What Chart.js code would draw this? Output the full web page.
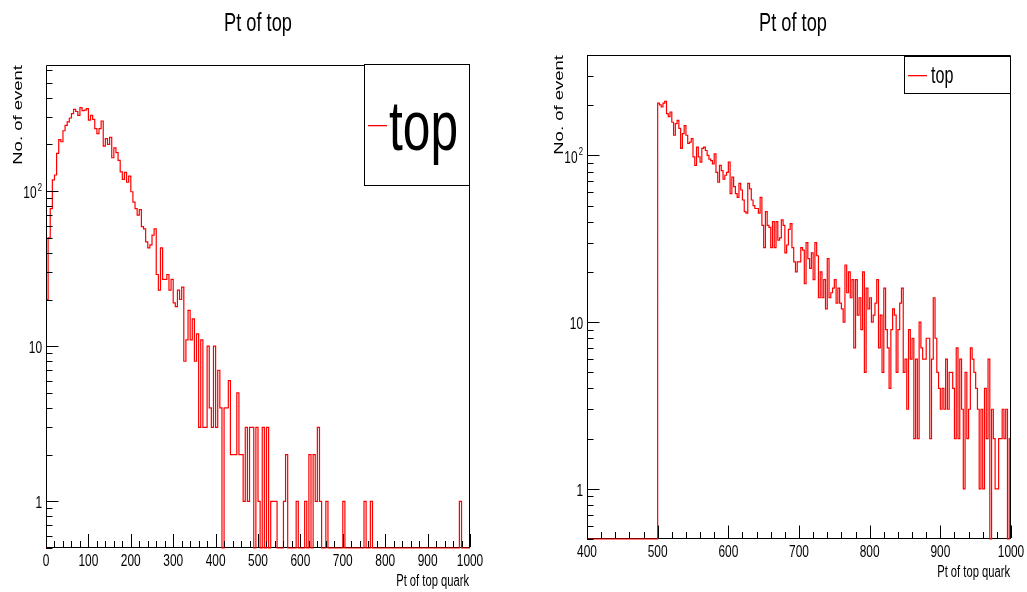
<!DOCTYPE html>
<html>
<head>
<meta charset="utf-8">
<script src="https://cdn.jsdelivr.net/npm/chart.js@4.4.0/dist/chart.umd.min.js"></script>
<style>
html, body { margin: 0; padding: 0; background: #fff; }
#wrap { position: relative; width: 1027px; height: 592px; overflow: hidden; }
canvas { position: absolute; top: 0; }
#left { left: 0; }
#right { left: 513px; }
</style>
</head>
<body>
<div id="wrap">
  <canvas id="left" width="513" height="592"></canvas>
  <canvas id="right" width="514" height="592"></canvas>
</div>
<script>
const titleText = "Pt of top";
const xTitle = "Pt of top quark";
const yTitle = "No. of event";
const legendLabel = "top";

// left histogram: 200 bins of width 5, from 0 to 1000
const leftLow = 0, leftWidth = 5;
const leftCounts = [
  20, 50, 77, 118, 127, 175, 215, 208, 245, 265,
  279, 296, 316, 336, 326, 308, 345, 330, 333, 340,
  287, 308, 290, 253, 235, 253, 283, 195, 218, 200,
  222, 164, 190, 177, 158, 133, 119, 132, 114, 125,
  99, 85, 77, 70, 76, 59, 57, 47, 43, 45,
  52, 57, 29, 23, 43, 27, 27, 29, 23, 27,
  19, 18, 23, 20, 24, 8, 11, 17, 11, 15,
  8, 12, 3, 11, 3, 3, 10, 4, 3, 10,
  3, 7, 4, 0, 4, 4, 6, 2, 2, 2,
  5, 2, 2, 1, 3, 1, 3, 3, 0, 3,
  1, 0, 3, 0, 3, 0, 1, 1, 1, 0,
  0, 0, 1, 2, 0, 0, 0, 0, 1, 0,
  0, 0, 1, 0, 2, 0, 2, 1, 3, 1,
  0, 0, 1, 0, 0, 0, 0, 0, 0, 0,
  1, 0, 0, 0, 0, 0, 0, 0, 0, 0,
  1, 0, 0, 1, 0, 0, 0, 0, 0, 0,
  0, 0, 0, 0, 0, 0, 0, 0, 0, 0,
  0, 0, 0, 0, 0, 0, 0, 0, 0, 0,
  0, 0, 0, 0, 0, 0, 0, 0, 0, 0,
  0, 0, 0, 0, 0, 1, 0, 0, 0, 0
];

// right histogram: 240 bins of width 2.5, from 400 to 1000
const rightLow = 400, rightWidth = 2.5;
const rightCounts = [
  0, 0, 0, 0, 0, 0, 0, 0, 0, 0,
  0, 0, 0, 0, 0, 0, 0, 0, 0, 0,
  0, 0, 0, 0, 0, 0, 0, 0, 0, 0,
  0, 0, 0, 0, 0, 0, 0, 0, 0, 0,
  206, 201, 195, 206, 211, 178, 171, 182, 158, 132,
  155, 162, 145, 110, 135, 151, 132, 118, 120, 126,
  98, 87, 112, 98, 91, 110, 112, 107, 100, 95,
  93, 89, 102, 79, 69, 87, 81, 72, 76, 79,
  91, 59, 74, 65, 59, 56, 68, 62, 54, 46,
  45, 68, 63, 54, 50, 48, 48, 45, 56, 38,
  28, 46, 38, 37, 28, 40, 28, 40, 31, 32,
  41, 38, 26, 29, 36, 39, 28, 23, 20, 23,
  23, 28, 27, 17, 30, 24, 21, 26, 18, 30,
  25, 14, 20, 14, 18, 12, 24, 14, 15, 16,
  18, 13, 16, 13, 12, 10, 22, 15, 20, 14,
  18, 7, 18, 11, 14, 9, 20, 5, 16, 12,
  14, 10, 11, 13, 18, 7, 11, 5, 16, 9,
  7, 4, 9, 12, 11, 5, 9, 13, 16, 5,
  6, 3, 9, 6, 8, 2, 6, 2, 10, 7,
  6, 6, 8, 8, 2, 6, 14, 8, 5, 4,
  3, 4, 3, 6, 3, 5, 5, 4, 2, 7,
  2, 6, 3, 1, 5, 2, 3, 7, 6, 5,
  4, 3, 1, 3, 1, 4, 2, 6, 0, 3,
  2, 1, 1, 2, 2, 3, 2, 3, 0, 2
];

const leftXTicks = [0, 100, 200, 300, 400, 500, 600, 700, 800, 900, 1000];
const rightXTicks = [400, 500, 600, 700, 800, 900, 1000];
const yTickValues = [1, 10, 100];
const yTickTexts = ["1", "10", "10"];
const yTickSups = ["", "", "2"];

const FONT = '"Liberation Sans", Arial, Helvetica, sans-serif';
const SQ = 0.7; // horizontal squeeze of the reference picture

function histPoints(low, width, counts, floor) {
  const pts = [{x: low, y: floor}];
  counts.forEach((c, i) => pts.push({x: low + i * width, y: c > 0 ? c : floor}));
  const last = counts[counts.length - 1];
  pts.push({x: low + counts.length * width, y: last > 0 ? last : floor});
  return pts;
}

function sqText(ctx, txt, x, y, size, align, base) {
  ctx.save();
  ctx.translate(x, y);
  ctx.scale(SQ, 1);
  ctx.font = size + "px " + FONT;
  ctx.textAlign = align;
  ctx.textBaseline = base || "alphabetic";
  ctx.fillText(txt, 0, 0);
  ctx.restore();
}

function rootPlugin(p) {
  return {
    id: "rootStyle",
    beforeDatasetsDraw(chart) {
      // bottom axis line goes under the histogram, empty bins draw red over it
      const ctx = chart.ctx;
      const a = chart.chartArea;
      ctx.save();
      ctx.strokeStyle = "#000";
      ctx.lineWidth = 1;
      ctx.beginPath();
      ctx.moveTo(Math.round(a.left), Math.round(a.bottom) - 0.5);
      ctx.lineTo(Math.round(a.right), Math.round(a.bottom) - 0.5);
      ctx.stroke();
      ctx.restore();
    },
    afterDraw(chart) {
      const ctx = chart.ctx;
      const a = chart.chartArea;
      const xs = chart.scales.x, ys = chart.scales.y;
      ctx.save();
      ctx.fillStyle = "#000";
      ctx.strokeStyle = "#000";
      ctx.lineWidth = 1;

      // frame: left, top, right
      ctx.beginPath();
      ctx.moveTo(Math.round(a.left) + 0.5, Math.round(a.bottom) - 0.5);
      ctx.lineTo(Math.round(a.left) + 0.5, Math.round(a.top) + 0.5);
      ctx.lineTo(Math.round(a.right) - 0.5, Math.round(a.top) + 0.5);
      ctx.lineTo(Math.round(a.right) - 0.5, Math.round(a.bottom) - 0.5);
      ctx.stroke();

      // x ticks: major every 100, minor every 20
      ctx.beginPath();
      for (let v = xs.min; v <= xs.max + 1e-6; v += 20) {
        const px = Math.round(xs.getPixelForValue(v)) + 0.5;
        const len = (Math.round(v) % 100 === 0) ? p.xMajor : p.xMinor;
        ctx.moveTo(px, a.bottom - 1);
        ctx.lineTo(px, a.bottom - len);
      }
      // y ticks: decades and 2..9
      for (let d = -1; d <= 3; d++) {
        for (let m = 1; m <= 9; m++) {
          const v = m * Math.pow(10, d);
          if (v < ys.min || v > ys.max) continue;
          const py = Math.round(ys.getPixelForValue(v)) + 0.5;
          const len = m === 1 ? p.yMajor : p.yMinor;
          ctx.moveTo(a.left, py);
          ctx.lineTo(a.left + len, py);
        }
      }
      ctx.stroke();

      // x tick labels
      p.xTicks.forEach(v => {
        sqText(ctx, String(v), xs.getPixelForValue(v), p.xLabelY, 17, "center", "middle");
      });
      // y tick labels
      yTickValues.forEach((v, i) => {
        const py = ys.getPixelForValue(v) + 2.5;
        if (yTickSups[i]) {
          sqText(ctx, yTickSups[i], a.left - 4, py - 6, 11, "right", "middle");
          sqText(ctx, yTickTexts[i], a.left - 9.5, py, 17, "right", "middle");
        } else {
          sqText(ctx, yTickTexts[i], a.left - 4, py, 17, "right", "middle");
        }
      });

      // axis titles
      sqText(ctx, xTitle, a.right - 1, p.xTitleY, 16, "right", "alphabetic");
      ctx.save();
      ctx.translate(p.yTitleX, a.top);
      ctx.scale(SQ, 1);
      ctx.rotate(-Math.PI / 2);
      ctx.font = "18.5px " + FONT;
      ctx.textAlign = "right";
      ctx.textBaseline = "alphabetic";
      ctx.fillText(yTitle, 0, 0);
      ctx.restore();

      // title
      sqText(ctx, titleText, p.titleX, 31, 26, "center", "alphabetic");

      // legend box
      const L = p.legend;
      ctx.fillStyle = "#fff";
      ctx.fillRect(L.x0, L.y0, L.x1 - L.x0, L.y1 - L.y0);
      ctx.strokeStyle = "#000";
      ctx.strokeRect(L.x0 + 0.5, L.y0 + 0.5, L.x1 - L.x0, L.y1 - L.y0);
      ctx.fillStyle = "#ff0000";
      ctx.fillRect(L.lx0, L.ly, L.lx1 - L.lx0, 1.3);
      ctx.fillStyle = "#000";
      sqText(ctx, legendLabel, L.tx, L.ty, L.size, "left", "alphabetic");
      ctx.restore();
    }
  };
}

function makeChart(id, low, width, counts, xmin, xmax, ymax, padding, p) {
  const floor = 0.5;
  return new Chart(document.getElementById(id), {
    type: "line",
    data: {
      datasets: [{
        data: histPoints(low, width, counts, floor),
        borderColor: "#ff0000",
        borderWidth: 1.2,
        pointRadius: 0,
        stepped: true,
        fill: false,
        clip: { left: 0, top: 0, right: 0, bottom: 2 }
      }]
    },
    options: {
      responsive: false,
      animation: false,
      events: [],
      layout: { padding: padding },
      plugins: { legend: { display: false }, tooltip: { enabled: false }, title: { display: false } },
      scales: {
        x: { type: "linear", min: xmin, max: xmax, display: false },
        y: { type: "logarithmic", min: floor, max: ymax, display: false }
      }
    },
    plugins: [rootPlugin(p)]
  });
}

makeChart("left", leftLow, leftWidth, leftCounts, 0, 1000, 650,
  { left: 46, right: 43, top: 65, bottom: 44 },
  {
    xTicks: leftXTicks, xMajor: 14, xMinor: 7, yMajor: 12.5, yMinor: 6.5,
    xLabelY: 561, xTitleY: 586, yTitleX: 21.5, titleX: 258,
    legend: { x0: 364, y0: 64, x1: 469, y1: 185, lx0: 368, lx1: 387, ly: 125, tx: 389, ty: 150, size: 71 }
  });

makeChart("right", rightLow, rightWidth, rightCounts, 400, 1000, 400,
  { left: 74, right: 16, top: 55, bottom: 53 },
  {
    xTicks: rightXTicks, xMajor: 13.5, xMinor: 7, yMajor: 12.5, yMinor: 6.5,
    xLabelY: 552, xTitleY: 577, yTitleX: 49.5, titleX: 280,
    legend: { x0: 391, y0: 56, x1: 497, y1: 93, lx0: 395, lx1: 414, ly: 75, tx: 418, ty: 83, size: 23 }
  });
</script>
</body>
</html>
